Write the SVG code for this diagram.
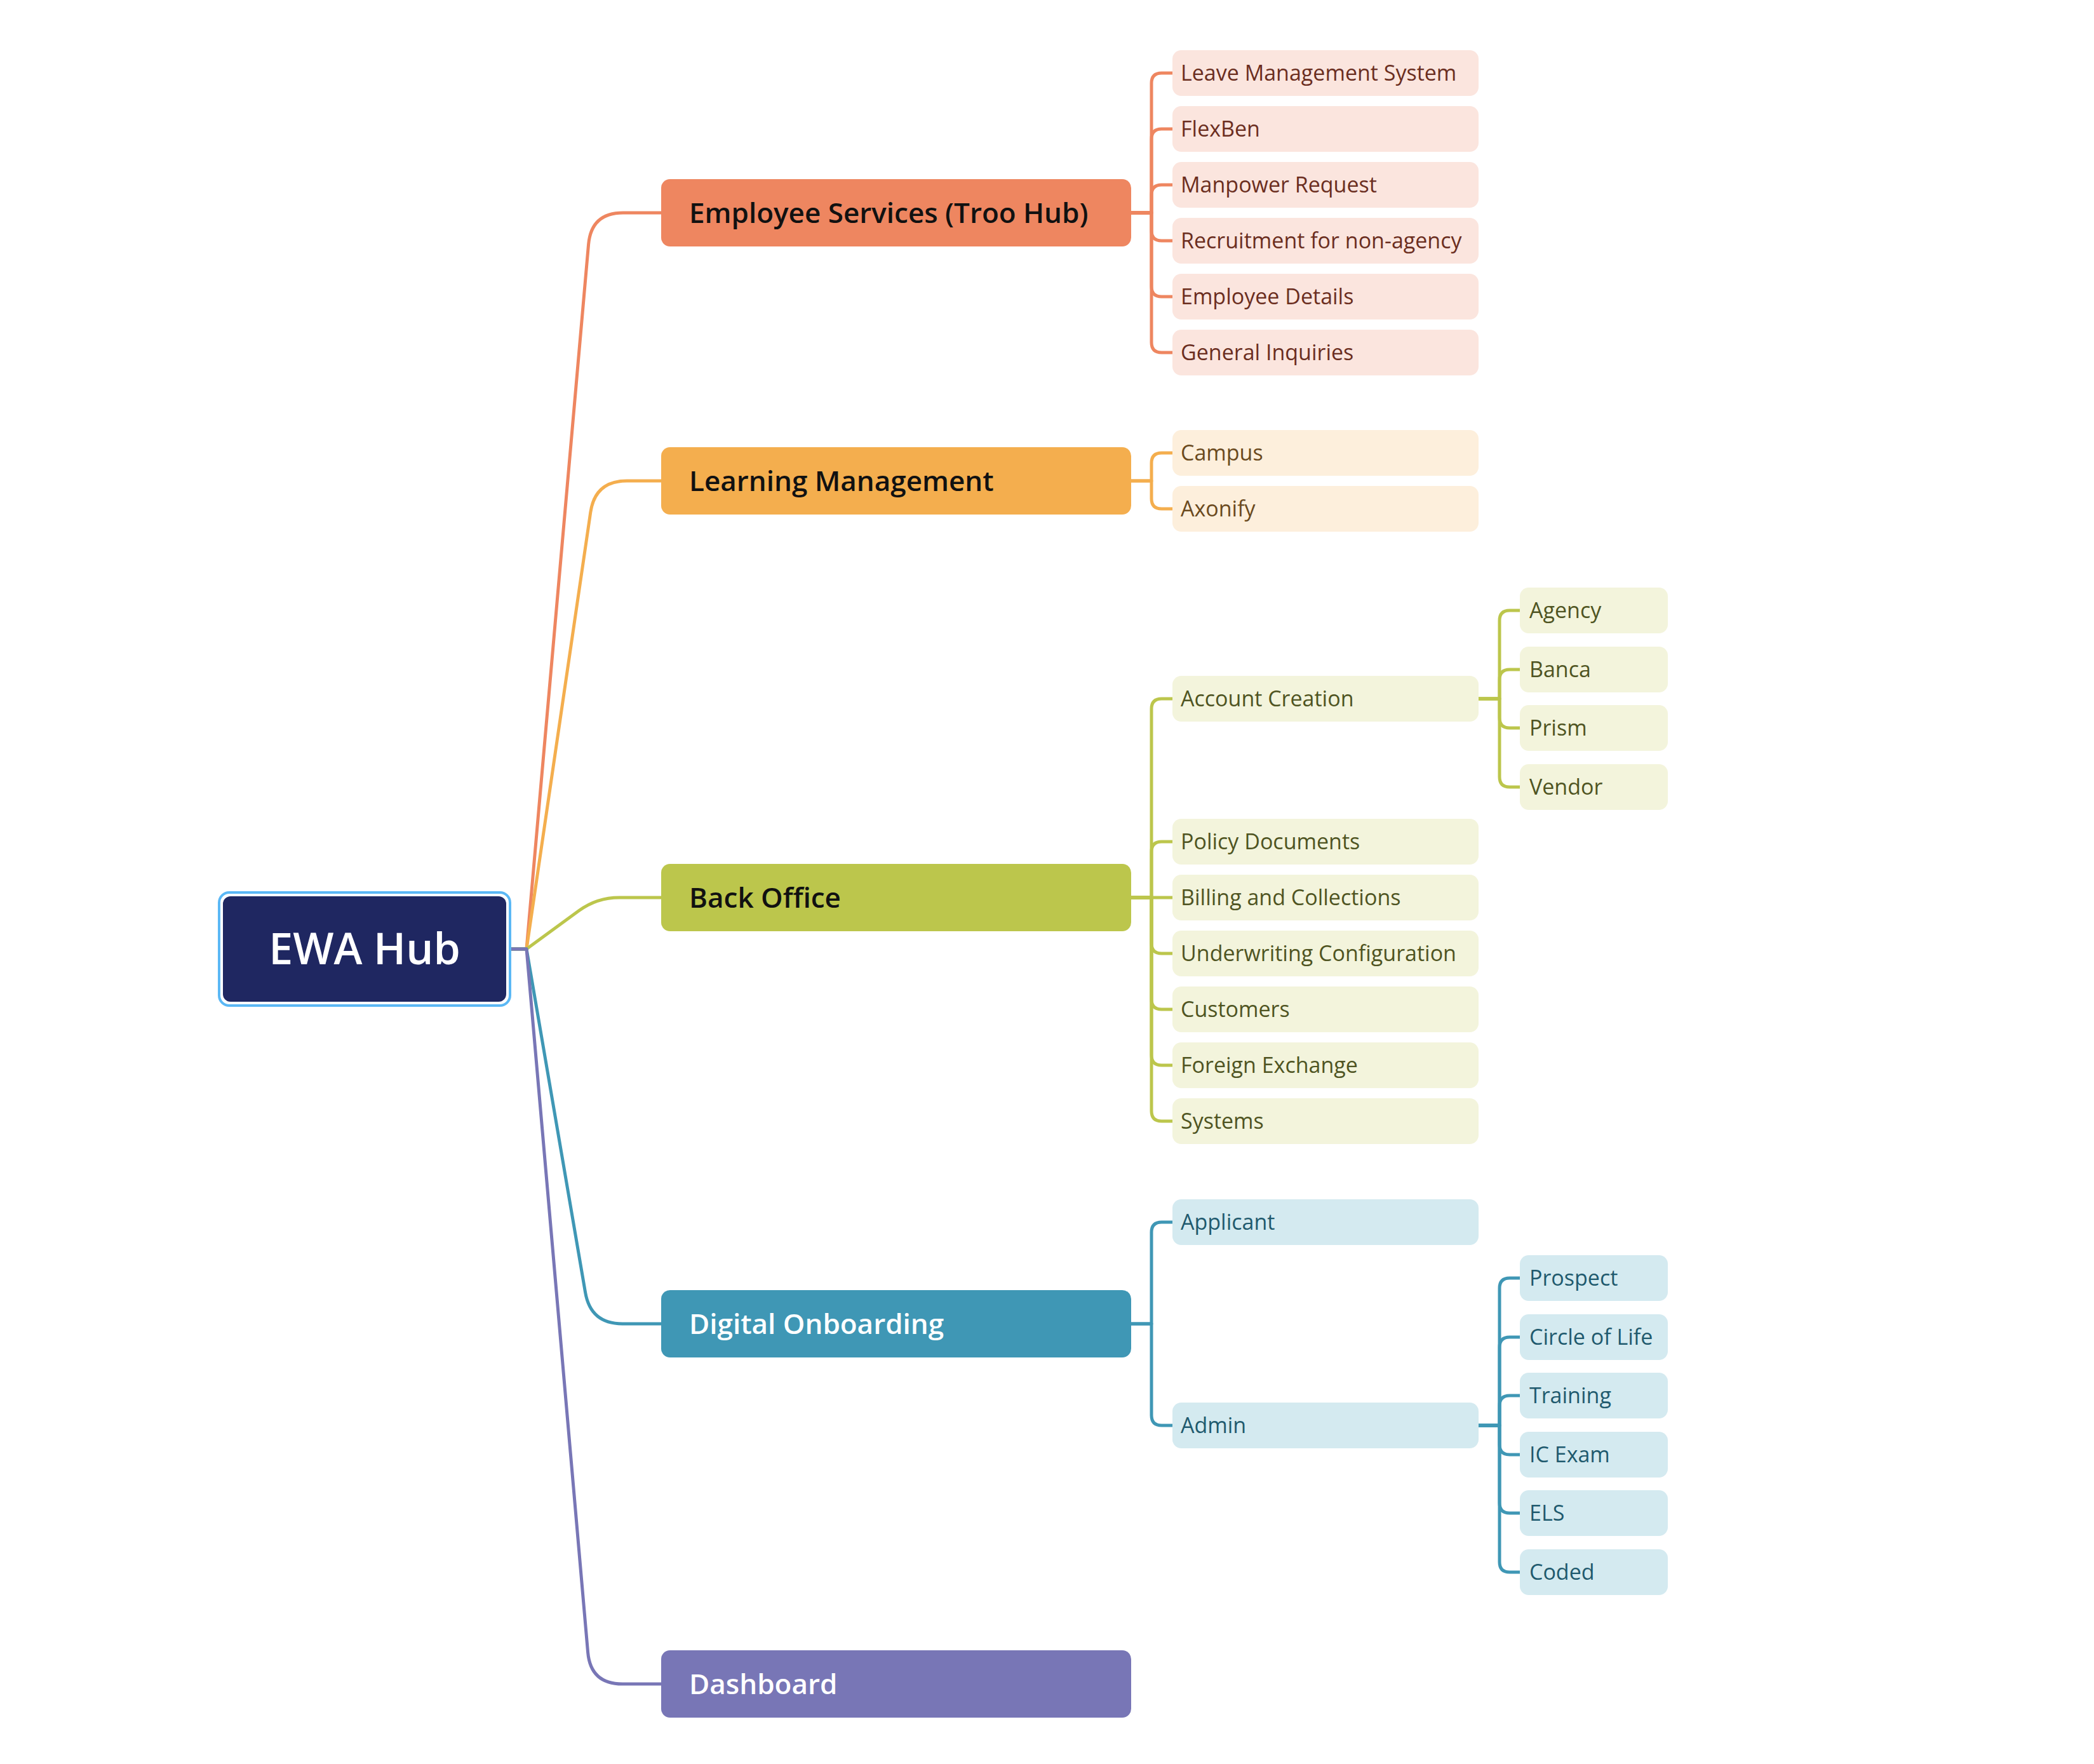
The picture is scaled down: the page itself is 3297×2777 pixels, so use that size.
<svg xmlns="http://www.w3.org/2000/svg" width="3297" height="2777" viewBox="0 0 3297 2777">
<style>
.line{fill:none;stroke-width:5;stroke-linecap:round;stroke-linejoin:round}
.es{stroke:#EE8660}.lm{stroke:#F4AE4E}.bo{stroke:#BCC64C}.do{stroke:#3F97B5}.db{stroke:#7876B6}
.bt{font-family:"Open Sans","Liberation Sans",sans-serif;font-weight:600;font-size:44px}
.lt{font-family:"Open Sans","Liberation Sans",sans-serif;font-size:34px}
.esl{fill:#FBE5DE}.lml{fill:#FDEFDC}.bol{fill:#F3F4DC}.dol{fill:#D4EAF0}
.est{fill:#6B2E1F}.lmt{fill:#6B4A1E}.bot{fill:#4F5422}.dot{fill:#1F5A6E}
</style>
<rect width="3297" height="2777" fill="#FFFFFF"/>
<g id="connectors">
<path class="line es" d="M798 1494 H829 L926.6 384.8 Q931 335 981 335 H1041"/>
<path class="line lm" d="M798 1494 H829 L929.8 806.5 Q937 757 987 757 H1041"/>
<path class="line bo" d="M798 1494 H829 L911.7 1433.6 Q940 1413 975 1413 H1041"/>
<path class="line do" d="M798 1494 H829 L921.6 2034.7 Q930 2084 980 2084 H1041"/>
<path class="line db" d="M798 1494 H829 L925.6 2601.2 Q930 2651 980 2651 H1041"/>
<!-- Employee Services -->
<path class="line es" d="M1781 335 H1813 V131 Q1813 115 1829 115 H1846"/>
<path class="line es" d="M1781 335 H1813 V219 Q1813 203 1829 203 H1846"/>
<path class="line es" d="M1781 335 H1813 V307 Q1813 291 1829 291 H1846"/>
<path class="line es" d="M1781 335 H1813 V363 Q1813 379 1829 379 H1846"/>
<path class="line es" d="M1781 335 H1813 V451 Q1813 467 1829 467 H1846"/>
<path class="line es" d="M1781 335 H1813 V539 Q1813 555 1829 555 H1846"/>
<!-- Learning Management -->
<path class="line lm" d="M1781 757 H1813 V729 Q1813 713 1829 713 H1846"/>
<path class="line lm" d="M1781 757 H1813 V785 Q1813 801 1829 801 H1846"/>
<!-- Back Office -->
<path class="line bo" d="M1781 1413 H1813 V1116 Q1813 1100 1829 1100 H1846"/>
<path class="line bo" d="M1781 1413 H1813 V1341 Q1813 1325 1829 1325 H1846"/>
<path class="line bo" d="M1781 1413 H1846"/>
<path class="line bo" d="M1781 1413 H1813 V1485 Q1813 1501 1829 1501 H1846"/>
<path class="line bo" d="M1781 1413 H1813 V1573 Q1813 1589 1829 1589 H1846"/>
<path class="line bo" d="M1781 1413 H1813 V1661 Q1813 1677 1829 1677 H1846"/>
<path class="line bo" d="M1781 1413 H1813 V1749 Q1813 1765 1829 1765 H1846"/>
<!-- Account Creation -->
<path class="line bo" d="M2328 1100 H2361 V977 Q2361 961 2377 961 H2393"/>
<path class="line bo" d="M2328 1100 H2361 V1070 Q2361 1054 2377 1054 H2393"/>
<path class="line bo" d="M2328 1100 H2361 V1130 Q2361 1146 2377 1146 H2393"/>
<path class="line bo" d="M2328 1100 H2361 V1223 Q2361 1239 2377 1239 H2393"/>
<!-- Digital Onboarding -->
<path class="line do" d="M1781 2084 H1813 V1940 Q1813 1924 1829 1924 H1846"/>
<path class="line do" d="M1781 2084 H1813 V2228 Q1813 2244 1829 2244 H1846"/>
<!-- Admin -->
<path class="line do" d="M2328 2244 H2361 V2028 Q2361 2012 2377 2012 H2393"/>
<path class="line do" d="M2328 2244 H2361 V2121 Q2361 2105 2377 2105 H2393"/>
<path class="line do" d="M2328 2244 H2361 V2213 Q2361 2197 2377 2197 H2393"/>
<path class="line do" d="M2328 2244 H2361 V2274 Q2361 2290 2377 2290 H2393"/>
<path class="line do" d="M2328 2244 H2361 V2366 Q2361 2382 2377 2382 H2393"/>
<path class="line do" d="M2328 2244 H2361 V2459 Q2361 2475 2377 2475 H2393"/>
</g>
<g id="root">
<rect x="345" y="1405" width="458" height="178" rx="16" fill="#FFFFFF" stroke="#5BB8F5" stroke-width="4"/>
<rect x="351" y="1411" width="446" height="166" rx="12" fill="#1F2761"/>
<text x="574" y="1518" text-anchor="middle" font-family="'Open Sans','Liberation Sans',sans-serif" font-weight="600" font-size="68" fill="#FFFFFF">EWA Hub</text>
</g>
<g id="employee-services">
<rect x="1041" y="282" width="740" height="106" rx="14" fill="#EE8660"/>
<text class="bt" x="1085" y="351" fill="#111111">Employee Services (Troo Hub)</text>
</g>
<g id="learning-management">
<rect x="1041" y="704" width="740" height="106" rx="14" fill="#F4AE4E"/>
<text class="bt" x="1085" y="773" fill="#111111">Learning Management</text>
</g>
<g id="back-office">
<rect x="1041" y="1360" width="740" height="106" rx="14" fill="#BCC64C"/>
<text class="bt" x="1085" y="1429" fill="#111111">Back Office</text>
</g>
<g id="digital-onboarding">
<rect x="1041" y="2031" width="740" height="106" rx="14" fill="#3F97B5"/>
<text class="bt" x="1085" y="2100" fill="#FFFFFF">Digital Onboarding</text>
</g>
<g id="dashboard">
<rect x="1041" y="2598" width="740" height="106" rx="14" fill="#7876B6"/>
<text class="bt" x="1085" y="2667" fill="#FFFFFF">Dashboard</text>
</g>
<g id="leave-management-system"><rect class="esl" x="1846" y="79" width="482" height="72" rx="14"/><text class="lt est" x="1859" y="127">Leave Management System</text></g>
<g id="flexben"><rect class="esl" x="1846" y="167" width="482" height="72" rx="14"/><text class="lt est" x="1859" y="215">FlexBen</text></g>
<g id="manpower-request"><rect class="esl" x="1846" y="255" width="482" height="72" rx="14"/><text class="lt est" x="1859" y="303">Manpower Request</text></g>
<g id="recruitment"><rect class="esl" x="1846" y="343" width="482" height="72" rx="14"/><text class="lt est" x="1859" y="391">Recruitment for non-agency</text></g>
<g id="employee-details"><rect class="esl" x="1846" y="431" width="482" height="72" rx="14"/><text class="lt est" x="1859" y="479">Employee Details</text></g>
<g id="general-inquiries"><rect class="esl" x="1846" y="519" width="482" height="72" rx="14"/><text class="lt est" x="1859" y="567">General Inquiries</text></g>
<g id="campus"><rect class="lml" x="1846" y="677" width="482" height="72" rx="14"/><text class="lt lmt" x="1859" y="725">Campus</text></g>
<g id="axonify"><rect class="lml" x="1846" y="765" width="482" height="72" rx="14"/><text class="lt lmt" x="1859" y="813">Axonify</text></g>
<g id="account-creation"><rect class="bol" x="1846" y="1064" width="482" height="72" rx="14"/><text class="lt bot" x="1859" y="1112">Account Creation</text></g>
<g id="agency"><rect class="bol" x="2393" y="925" width="233" height="72" rx="14"/><text class="lt bot" x="2408" y="973">Agency</text></g>
<g id="banca"><rect class="bol" x="2393" y="1018" width="233" height="72" rx="14"/><text class="lt bot" x="2408" y="1066">Banca</text></g>
<g id="prism"><rect class="bol" x="2393" y="1110" width="233" height="72" rx="14"/><text class="lt bot" x="2408" y="1158">Prism</text></g>
<g id="vendor"><rect class="bol" x="2393" y="1203" width="233" height="72" rx="14"/><text class="lt bot" x="2408" y="1251">Vendor</text></g>
<g id="policy-documents"><rect class="bol" x="1846" y="1289" width="482" height="72" rx="14"/><text class="lt bot" x="1859" y="1337">Policy Documents</text></g>
<g id="billing-collections"><rect class="bol" x="1846" y="1377" width="482" height="72" rx="14"/><text class="lt bot" x="1859" y="1425">Billing and Collections</text></g>
<g id="underwriting"><rect class="bol" x="1846" y="1465" width="482" height="72" rx="14"/><text class="lt bot" x="1859" y="1513">Underwriting Configuration</text></g>
<g id="customers"><rect class="bol" x="1846" y="1553" width="482" height="72" rx="14"/><text class="lt bot" x="1859" y="1601">Customers</text></g>
<g id="foreign-exchange"><rect class="bol" x="1846" y="1641" width="482" height="72" rx="14"/><text class="lt bot" x="1859" y="1689">Foreign Exchange</text></g>
<g id="systems"><rect class="bol" x="1846" y="1729" width="482" height="72" rx="14"/><text class="lt bot" x="1859" y="1777">Systems</text></g>
<g id="applicant"><rect class="dol" x="1846" y="1888" width="482" height="72" rx="14"/><text class="lt dot" x="1859" y="1936">Applicant</text></g>
<g id="admin"><rect class="dol" x="1846" y="2208" width="482" height="72" rx="14"/><text class="lt dot" x="1859" y="2256">Admin</text></g>
<g id="prospect"><rect class="dol" x="2393" y="1976" width="233" height="72" rx="14"/><text class="lt dot" x="2408" y="2024">Prospect</text></g>
<g id="circle-of-life"><rect class="dol" x="2393" y="2069" width="233" height="72" rx="14"/><text class="lt dot" x="2408" y="2117">Circle of Life</text></g>
<g id="training"><rect class="dol" x="2393" y="2161" width="233" height="72" rx="14"/><text class="lt dot" x="2408" y="2209">Training</text></g>
<g id="ic-exam"><rect class="dol" x="2393" y="2254" width="233" height="72" rx="14"/><text class="lt dot" x="2408" y="2302">IC Exam</text></g>
<g id="els"><rect class="dol" x="2393" y="2346" width="233" height="72" rx="14"/><text class="lt dot" x="2408" y="2394">ELS</text></g>
<g id="coded"><rect class="dol" x="2393" y="2439" width="233" height="72" rx="14"/><text class="lt dot" x="2408" y="2487">Coded</text></g>
</svg>
